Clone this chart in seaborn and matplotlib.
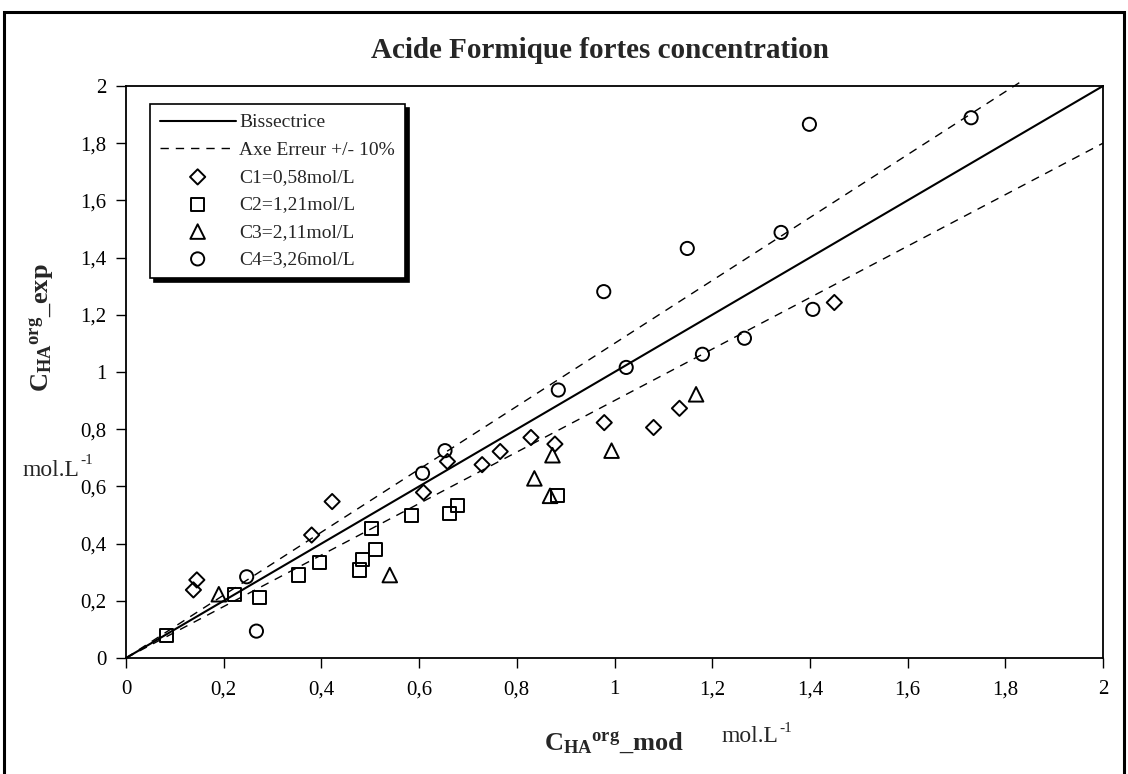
import matplotlib
matplotlib.use("Agg")
import matplotlib.pyplot as plt
import seaborn as sns
import numpy as np
import pandas as pd
from matplotlib.patches import Rectangle

# ---- data ----
c1_x = [0.138, 0.145, 0.380, 0.422, 0.609, 0.658, 0.729, 0.766, 0.829, 0.878, 0.979, 1.080, 1.133, 1.450]
c1_y = [0.238, 0.273, 0.430, 0.547, 0.579, 0.687, 0.676, 0.722, 0.771, 0.748, 0.823, 0.806, 0.873, 1.243]

c2_x = [0.083, 0.222, 0.274, 0.353, 0.396, 0.478, 0.484, 0.510, 0.503, 0.585, 0.663, 0.678, 0.884]
c2_y = [0.080, 0.223, 0.211, 0.290, 0.335, 0.308, 0.345, 0.380, 0.453, 0.498, 0.505, 0.533, 0.567]

c3_x = [0.190, 0.540, 0.836, 0.868, 0.873, 0.994, 1.167]
c3_y = [0.223, 0.290, 0.628, 0.567, 0.709, 0.725, 0.922]

c4_x = [0.247, 0.267, 0.607, 0.653, 0.885, 0.978, 1.024, 1.149, 1.180, 1.266, 1.341, 1.399, 1.406, 1.730]
c4_y = [0.284, 0.094, 0.646, 0.725, 0.937, 1.281, 1.016, 1.432, 1.062, 1.118, 1.488, 1.866, 1.219, 1.889]

line_x = [0.0, 2.0]
upper_x = [0.0, 1.836]
err = 0.10

ticks = [0, 0.2, 0.4, 0.6, 0.8, 1.0, 1.2, 1.4, 1.6, 1.8, 2.0]
tick_labels = ["0", "0,2", "0,4", "0,6", "0,8", "1", "1,2", "1,4", "1,6", "1,8", "2"]

series_labels = ["C1=0,58mol/L", "C2=1,21mol/L", "C3=2,11mol/L", "C4=3,26mol/L"]

# ---- style ----
sns.set_theme(style="white")
plt.rcParams['font.family'] = ['Liberation Serif', 'DejaVu Serif']
plt.rcParams['mathtext.fontset'] = 'custom'
plt.rcParams['mathtext.rm'] = 'Liberation Serif'
plt.rcParams['mathtext.bf'] = 'Liberation Serif:bold'
plt.rcParams['mathtext.it'] = 'Liberation Serif:italic'

fig = plt.figure(figsize=(11.28, 7.74), dpi=100)
fig.patch.set_facecolor('white')
ax = fig.add_axes([126/1128, 1 - 658/774, (1103-126)/1128, (658-86)/774])

# lines
sns.lineplot(x=line_x, y=line_x, ax=ax, color='black', lw=1.5, label='Bissectrice')
sns.lineplot(x=upper_x, y=[v * (1 + err) for v in upper_x], ax=ax, color='black', lw=1.0,
             linestyle=(0, (6, 5)), label='Axe Erreur +/- 10%')
sns.lineplot(x=line_x, y=[v * (1 - err) for v in line_x], ax=ax, color='black', lw=1.0,
             linestyle=(0, (6, 5)))
for l in ax.lines:
    l.set_clip_on(False)

kw = dict(facecolor='none', edgecolor='black', linewidth=1.4, ax=ax, zorder=3)
sns.scatterplot(x=c1_x, y=c1_y, marker='D', s=60, label=series_labels[0], **kw)
sns.scatterplot(x=c2_x, y=c2_y, marker='s', s=90, label=series_labels[1], **kw)
sns.scatterplot(x=c3_x, y=c3_y, marker='^', s=110, label=series_labels[2], **kw)
sns.scatterplot(x=c4_x, y=c4_y, marker='o', s=90, label=series_labels[3], **kw)

ax.set_xlim(0, 2)
ax.set_ylim(0, 2)
ax.set_xticks(ticks)
ax.set_xticklabels(tick_labels, fontsize=15)
ax.set_yticks(ticks)
ax.set_yticklabels(tick_labels, fontsize=15)
ax.tick_params(axis='both', direction='out', length=7, width=1, colors='black', pad=7)
ax.tick_params(axis='x', bottom=True, pad=9)
ax.tick_params(axis='y', left=True)
for sp in ax.spines.values():
    sp.set_color('black')
    sp.set_linewidth(1.3)
ax.set_xlabel('')
ax.set_ylabel('')

leg = ax.legend(loc='upper left', bbox_to_anchor=(24/977, 1 - 18/572), borderaxespad=0,
                fontsize=14, frameon=True, fancybox=False, edgecolor='black', framealpha=1,
                shadow={'color': 'black', 'alpha': 1, 'ox': 3, 'oy': -3},
                handlelength=3.9, labelspacing=0.5, borderpad=0.5, handletextpad=0.2)
leg.get_frame().set_linewidth(1.2)

# titles / labels
fig.text(600/1128, 1 - 50/774, 'Acide Formique fortes concentration', ha='center', va='center',
         fontsize=21, fontweight='bold')
fig.text(42/1128, 1 - 328/774, r'$\mathbf{C_{HA}{}^{org}\_exp}$', rotation=90, ha='center', va='center',
         fontsize=19)
fig.text(79/1128, 1 - 470/774, 'mol.L', ha='right', va='center', fontsize=17)
fig.text(80/1128, 1 - 461/774, '-1', ha='left', va='center', fontsize=11)
fig.text(614/1128, 1 - 743/774, r'$\mathbf{C_{HA}{}^{org}\_mod}$', ha='center', va='center', fontsize=19)
fig.text(778/1128, 1 - 737/774, 'mol.L', ha='right', va='center', fontsize=17)
fig.text(779/1128, 1 - 728/774, '-1', ha='left', va='center', fontsize=11)

# outer frame
fig.patches.append(Rectangle((4/1128, -0.01), (1124-4)/1128, 1 - 12/774 + 0.01,
                             transform=fig.transFigure, fill=False, edgecolor='black', linewidth=2.2))

fig.savefig('out.png', dpi=100, facecolor='white')
